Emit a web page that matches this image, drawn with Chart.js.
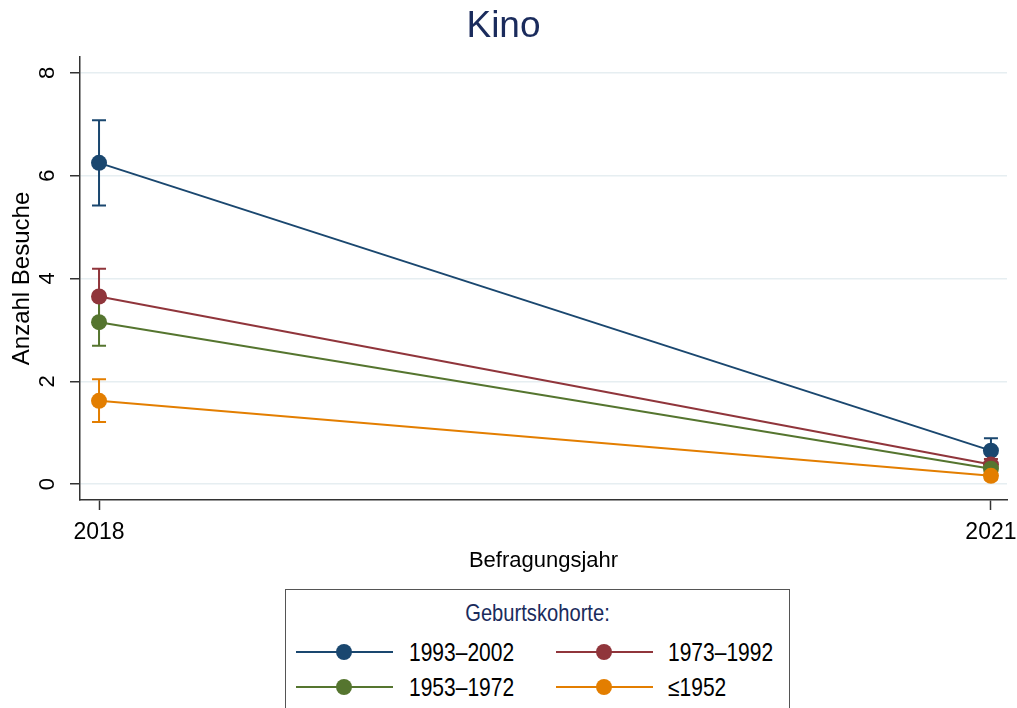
<!DOCTYPE html>
<html>
<head>
<meta charset="utf-8">
<script src="https://cdn.jsdelivr.net/npm/chart.js@4/dist/chart.umd.min.js"></script>
<style>
  body { margin: 0; background: #fff; }
  #wrap { position: relative; width: 1017px; height: 708px; overflow: hidden; background: #fff; }
  #chartBox { position: absolute; left: 0; top: 0; width: 1017px; height: 574px; }
  #legend {
    position: absolute; left: 285px; top: 589px; width: 505px; height: 160px;
    border: 1.5px solid #555; box-sizing: border-box;
    font-family: 'Liberation Sans', Arial, sans-serif;
  }
  #legend .titel {
    position: absolute; left: 0; right: 0; top: 9px; text-align: center; font-size: 24px; color: #1a2b5c;
    white-space: nowrap; transform: scaleX(0.84); transform-origin: center;
  }
  #legend .linie { position: absolute; height: 2px; }
  #legend .punkt { position: absolute; width: 16px; height: 16px; border-radius: 50%; }
  #legend .text {
    position: absolute; font-size: 25px; color: #000; line-height: 30px;
    white-space: nowrap; transform: scaleX(0.84); transform-origin: left center;
  }
</style>
</head>
<body>
<div id="wrap">
  <div id="chartBox"><canvas id="lineChart"></canvas></div>
  <div id="legend"><div class="titel">Geburtskohorte:</div></div>
</div>
<script>
// Daten
const jahre = [2018, 2021];
const kohorten = ['1993–2002', '1973–1992', '1953–1972', '≤1952'];
const farben = ['#1a476f', '#90353b', '#55752f', '#e37e00'];

const mittel1993 = [6.25, 0.65];
const unten1993 = [5.42, 0.42];
const oben1993 = [7.08, 0.89];

const mittel1973 = [3.65, 0.38];
const unten1973 = [3.10, 0.27];
const oben1973 = [4.19, 0.49];

const mittel1953 = [3.15, 0.30];
const unten1953 = [2.69, 0.20];
const oben1953 = [3.61, 0.40];

const mittel1952 = [1.62, 0.16];
const unten1952 = [1.21, 0.09];
const oben1952 = [2.04, 0.23];

const xTicks = [2018, 2021];
const yTicks = [0, 2, 4, 6, 8];

const schrift = "'Liberation Sans', Arial, sans-serif";

function punkte(mittel, unten, oben) {
  return jahre.map(function (j, i) {
    return { x: j, y: mittel[i], lo: unten[i], hi: oben[i] };
  });
}

const reihen = [
  punkte(mittel1993, unten1993, oben1993),
  punkte(mittel1973, unten1973, oben1973),
  punkte(mittel1953, unten1953, oben1953),
  punkte(mittel1952, unten1952, oben1952),
];

// Konfidenzintervalle als Fehlerbalken
const errorBars = {
  id: 'errorBars',
  beforeDatasetsDraw(chart) {
    const ctx = chart.ctx;
    const xs = chart.scales.x;
    const ys = chart.scales.y;
    chart.data.datasets.forEach(function (ds) {
      ctx.save();
      ctx.strokeStyle = ds.borderColor;
      ctx.lineWidth = 2;
      ds.data.forEach(function (p) {
        const px = xs.getPixelForValue(p.x);
        const lo = ys.getPixelForValue(p.lo);
        const hi = ys.getPixelForValue(p.hi);
        ctx.beginPath();
        ctx.moveTo(px, lo);
        ctx.lineTo(px, hi);
        ctx.moveTo(px - 7, lo);
        ctx.lineTo(px + 7, lo);
        ctx.moveTo(px - 7, hi);
        ctx.lineTo(px + 7, hi);
        ctx.stroke();
      });
      ctx.restore();
    });
  }
};

let datasets = [];
kohorten.forEach(function (name, i) {
  datasets.push({
    label: name,
    data: reihen[i],
    borderColor: farben[i],
    backgroundColor: farben[i],
    pointBackgroundColor: farben[i],
    pointBorderWidth: 0,
    pointRadius: 8,
    borderWidth: 2,
    order: kohorten.length - i,
  });
});

let lineChart = document.getElementById('lineChart');
new Chart(lineChart, {
  type: 'line',
  data: { datasets: datasets },
  plugins: [errorBars],
  options: {
    responsive: true,
    maintainAspectRatio: false,
    animation: false,
    layout: { padding: { left: 0, right: 10, top: 0, bottom: 0 } },
    plugins: {
      legend: { display: false },
      tooltip: { enabled: false },
      title: {
        display: true,
        text: 'Kino',
        color: '#1a2b5c',
        font: { family: schrift, size: 37, weight: 'normal', lineHeight: 1.2 },
        padding: { top: 5, bottom: 7.6 },
      },
    },
    scales: {
      x: {
        type: 'linear',
        min: 2017.936,
        max: 2021.054,
        afterBuildTicks: function (s) { s.ticks = xTicks.map(function (v) { return { value: v }; }); },
        afterFit: function (s) { s.height = 74; s.paddingLeft = 0; s.paddingRight = 0; },
        grid: { drawOnChartArea: false, tickColor: '#333', tickLength: 10, tickWidth: 1.5 },
        border: { display: true, color: '#333', width: 1.5 },
        ticks: {
          autoSkip: false, maxRotation: 0, padding: 9, color: '#000',
          font: { family: schrift, size: 23, lineHeight: 1.2 },
          callback: function (v) { return String(v); },
        },
        title: {
          display: true, text: 'Befragungsjahr', color: '#000',
          font: { family: schrift, size: 22, lineHeight: 1.2 },
          padding: { top: 1, bottom: 0 },
        },
      },
      y: {
        min: -0.31,
        max: 8.31,
        afterBuildTicks: function (s) { s.ticks = yTicks.map(function (v) { return { value: v }; }); },
        afterFit: function (s) { s.width = 80; },
        grid: { color: '#e6eef1', lineWidth: 1.5, tickColor: '#333', tickLength: 10, tickWidth: 1.5 },
        border: { display: true, color: '#333', width: 1.5 },
        ticks: {
          minRotation: 90, maxRotation: 90, crossAlign: 'center', padding: 16, color: '#000',
          font: { family: schrift, size: 22, lineHeight: 1 },
        },
        title: {
          display: true, text: 'Anzahl Besuche', color: '#000',
          font: { family: schrift, size: 24, lineHeight: 1 },
          padding: { top: 10, bottom: 0 },
        },
      },
    },
  },
});

// Legende
const legend = document.getElementById('legend');
const spalteLinie = [10, 270];
const spalteText = [123, 382];
const zeileY = [62, 97];
kohorten.forEach(function (name, i) {
  const col = i % 2;
  const row = Math.floor(i / 2);
  const linie = document.createElement('div');
  linie.className = 'linie';
  linie.style.left = spalteLinie[col] + 'px';
  linie.style.width = '97px';
  linie.style.top = (zeileY[row] - 1) + 'px';
  linie.style.background = farben[i];
  legend.appendChild(linie);
  const punkt = document.createElement('div');
  punkt.className = 'punkt';
  punkt.style.left = (spalteLinie[col] + 48 - 8) + 'px';
  punkt.style.top = (zeileY[row] - 8) + 'px';
  punkt.style.background = farben[i];
  legend.appendChild(punkt);
  const text = document.createElement('div');
  text.className = 'text';
  text.style.left = spalteText[col] + 'px';
  text.style.top = (zeileY[row] - 15) + 'px';
  text.textContent = name;
  legend.appendChild(text);
});
</script>
</body>
</html>
